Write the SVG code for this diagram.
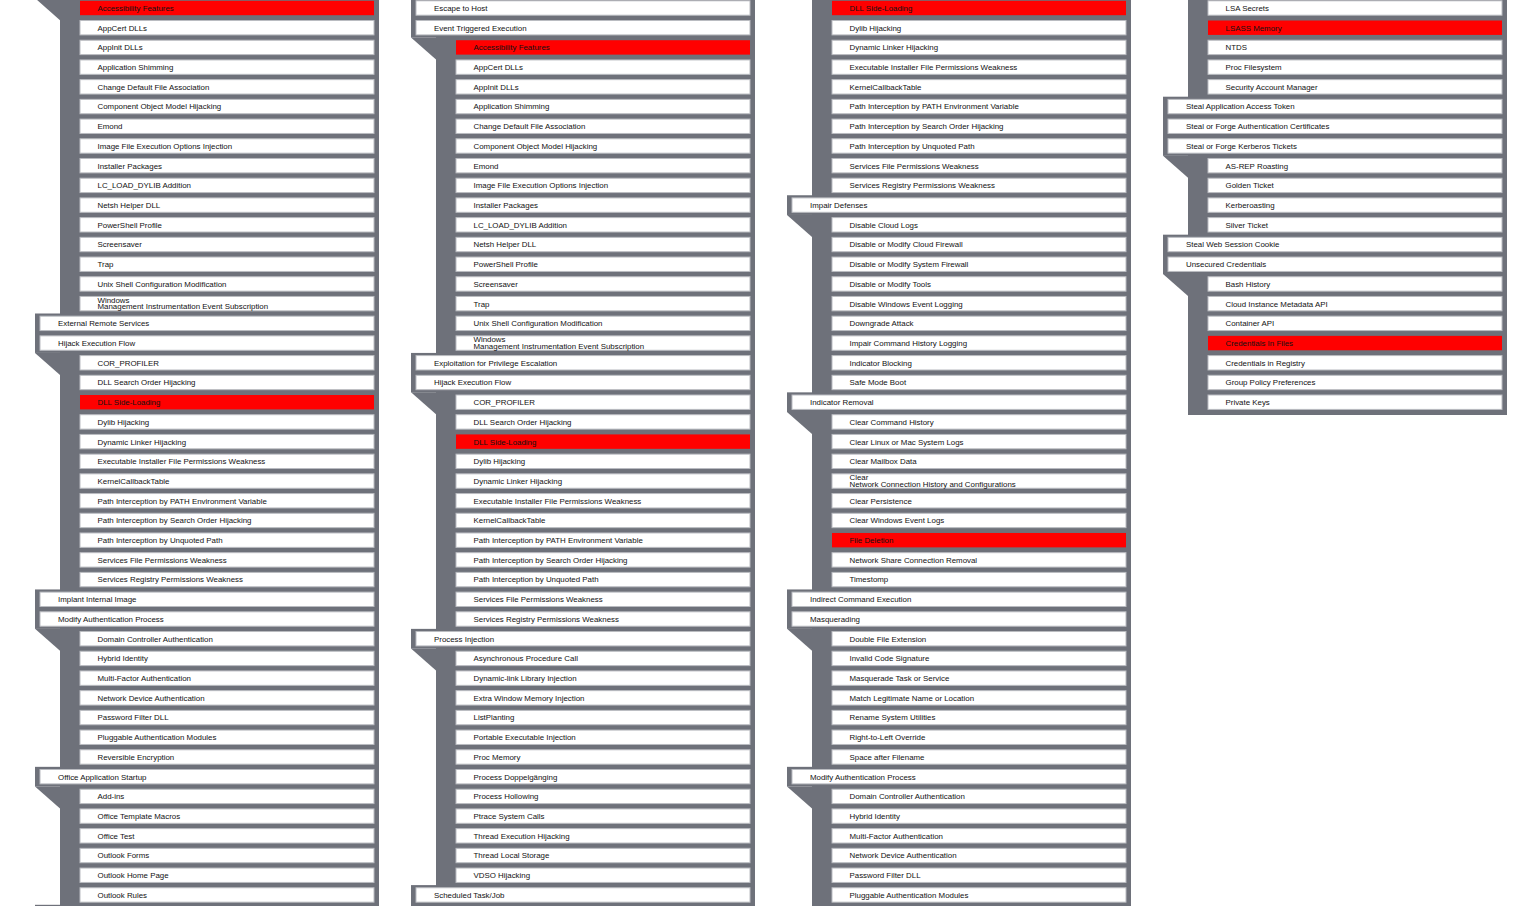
<svg xmlns="http://www.w3.org/2000/svg" width="1531" height="906" viewBox="0 0 1531 906">
<style>
.bg{fill:#6e717a}
.t rect,.s rect{fill:#fff;stroke:#babcc1;stroke-width:1}
.hl rect{fill:#ff0000;stroke:none}
text{font-family:"Liberation Sans",Arial,sans-serif;font-size:7.9px;fill:#111}
</style>
<rect width="1531" height="906" fill="#fff"/>
<g id="connectors">
<g transform="translate(0,0)">
<rect class="bg" x="60" y="-2" width="319" height="912"/>
<rect class="bg" x="35" y="313.5" width="25" height="39.43"/>
<rect class="bg" x="35" y="589.45" width="25" height="39.42"/>
<rect class="bg" x="35" y="766.84" width="25" height="19.71"/>
<rect class="bg" x="35" y="904.8" width="25" height="6"/>
<polygon class="bg" points="35,-1.86 60,-1.86 60,20.14"/>
<polygon class="bg" points="35,352.93 60,352.93 60,374.93"/>
<polygon class="bg" points="35,628.87 60,628.87 60,650.87"/>
<polygon class="bg" points="35,786.55 60,786.55 60,808.55"/>
</g>
<g transform="translate(376,0)">
<rect class="bg" x="60" y="-2" width="319" height="912"/>
<rect class="bg" x="35" y="-2" width="25" height="39.57"/>
<rect class="bg" x="35" y="352.93" width="25" height="39.42"/>
<rect class="bg" x="35" y="628.87" width="25" height="19.71"/>
<rect class="bg" x="35" y="885.1" width="25" height="25"/>
<polygon class="bg" points="35,37.57 60,37.57 60,59.57"/>
<polygon class="bg" points="35,392.35 60,392.35 60,414.35"/>
<polygon class="bg" points="35,648.58 60,648.58 60,670.58"/>
</g>
<g transform="translate(752,0)">
<rect class="bg" x="60" y="-2" width="319" height="912"/>
<rect class="bg" x="35" y="195.25" width="25" height="19.71"/>
<rect class="bg" x="35" y="392.35" width="25" height="19.71"/>
<rect class="bg" x="35" y="589.45" width="25" height="39.42"/>
<rect class="bg" x="35" y="766.84" width="25" height="19.71"/>
<polygon class="bg" points="35,214.96 60,214.96 60,236.96"/>
<polygon class="bg" points="35,412.06 60,412.06 60,434.06"/>
<polygon class="bg" points="35,628.87 60,628.87 60,650.87"/>
<polygon class="bg" points="35,786.55 60,786.55 60,808.55"/>
</g>
<g transform="translate(1128,0)">
<rect class="bg" x="60" y="-2" width="319" height="417"/>
<rect class="bg" x="35" y="96.7" width="25" height="59.13"/>
<rect class="bg" x="35" y="234.67" width="25" height="39.42"/>
<polygon class="bg" points="35,155.83 60,155.83 60,177.83"/>
<polygon class="bg" points="35,274.09 60,274.09 60,296.09"/>
</g>
</g>

<g id="column-1">
<g id="n1-00" class="s hl" transform="translate(0,8)"><rect x="80" y="-7.2" width="294" height="14.4"/><text x="97.5" y="2.9">Accessibility Features</text></g>
<g id="n1-01" class="s" transform="translate(0,27.71)"><rect x="80" y="-7.2" width="294" height="14.4"/><text x="97.5" y="2.9">AppCert DLLs</text></g>
<g id="n1-02" class="s" transform="translate(0,47.42)"><rect x="80" y="-7.2" width="294" height="14.4"/><text x="97.5" y="2.9">AppInit DLLs</text></g>
<g id="n1-03" class="s" transform="translate(0,67.13)"><rect x="80" y="-7.2" width="294" height="14.4"/><text x="97.5" y="2.9">Application Shimming</text></g>
<g id="n1-04" class="s" transform="translate(0,86.84)"><rect x="80" y="-7.2" width="294" height="14.4"/><text x="97.5" y="2.9">Change Default File Association</text></g>
<g id="n1-05" class="s" transform="translate(0,106.55)"><rect x="80" y="-7.2" width="294" height="14.4"/><text x="97.5" y="2.9">Component Object Model Hijacking</text></g>
<g id="n1-06" class="s" transform="translate(0,126.26)"><rect x="80" y="-7.2" width="294" height="14.4"/><text x="97.5" y="2.9">Emond</text></g>
<g id="n1-07" class="s" transform="translate(0,145.97)"><rect x="80" y="-7.2" width="294" height="14.4"/><text x="97.5" y="2.9">Image File Execution Options Injection</text></g>
<g id="n1-08" class="s" transform="translate(0,165.68)"><rect x="80" y="-7.2" width="294" height="14.4"/><text x="97.5" y="2.9">Installer Packages</text></g>
<g id="n1-09" class="s" transform="translate(0,185.39)"><rect x="80" y="-7.2" width="294" height="14.4"/><text x="97.5" y="2.9">LC_LOAD_DYLIB Addition</text></g>
<g id="n1-10" class="s" transform="translate(0,205.1)"><rect x="80" y="-7.2" width="294" height="14.4"/><text x="97.5" y="2.9">Netsh Helper DLL</text></g>
<g id="n1-11" class="s" transform="translate(0,224.81)"><rect x="80" y="-7.2" width="294" height="14.4"/><text x="97.5" y="2.9">PowerShell Profile</text></g>
<g id="n1-12" class="s" transform="translate(0,244.52)"><rect x="80" y="-7.2" width="294" height="14.4"/><text x="97.5" y="2.9">Screensaver</text></g>
<g id="n1-13" class="s" transform="translate(0,264.23)"><rect x="80" y="-7.2" width="294" height="14.4"/><text x="97.5" y="2.9">Trap</text></g>
<g id="n1-14" class="s" transform="translate(0,283.94)"><rect x="80" y="-7.2" width="294" height="14.4"/><text x="97.5" y="2.9">Unix Shell Configuration Modification</text></g>
<g id="n1-15" class="s" transform="translate(0,303.65)"><rect x="80" y="-7.2" width="294" height="14.4"/><text x="97.5" y="-1.1">Windows</text><text x="97.5" y="5.6">Management Instrumentation Event Subscription</text></g>
<g id="n1-16" class="t" transform="translate(0,323.36)"><rect x="40" y="-7.2" width="334" height="14.4"/><text x="58" y="2.9">External Remote Services</text></g>
<g id="n1-17" class="t" transform="translate(0,343.07)"><rect x="40" y="-7.2" width="334" height="14.4"/><text x="58" y="2.9">Hijack Execution Flow</text></g>
<g id="n1-18" class="s" transform="translate(0,362.78)"><rect x="80" y="-7.2" width="294" height="14.4"/><text x="97.5" y="2.9">COR_PROFILER</text></g>
<g id="n1-19" class="s" transform="translate(0,382.49)"><rect x="80" y="-7.2" width="294" height="14.4"/><text x="97.5" y="2.9">DLL Search Order Hijacking</text></g>
<g id="n1-20" class="s hl" transform="translate(0,402.2)"><rect x="80" y="-7.2" width="294" height="14.4"/><text x="97.5" y="2.9">DLL Side-Loading</text></g>
<g id="n1-21" class="s" transform="translate(0,421.91)"><rect x="80" y="-7.2" width="294" height="14.4"/><text x="97.5" y="2.9">Dylib Hijacking</text></g>
<g id="n1-22" class="s" transform="translate(0,441.62)"><rect x="80" y="-7.2" width="294" height="14.4"/><text x="97.5" y="2.9">Dynamic Linker Hijacking</text></g>
<g id="n1-23" class="s" transform="translate(0,461.33)"><rect x="80" y="-7.2" width="294" height="14.4"/><text x="97.5" y="2.9">Executable Installer File Permissions Weakness</text></g>
<g id="n1-24" class="s" transform="translate(0,481.04)"><rect x="80" y="-7.2" width="294" height="14.4"/><text x="97.5" y="2.9">KernelCallbackTable</text></g>
<g id="n1-25" class="s" transform="translate(0,500.75)"><rect x="80" y="-7.2" width="294" height="14.4"/><text x="97.5" y="2.9">Path Interception by PATH Environment Variable</text></g>
<g id="n1-26" class="s" transform="translate(0,520.46)"><rect x="80" y="-7.2" width="294" height="14.4"/><text x="97.5" y="2.9">Path Interception by Search Order Hijacking</text></g>
<g id="n1-27" class="s" transform="translate(0,540.17)"><rect x="80" y="-7.2" width="294" height="14.4"/><text x="97.5" y="2.9">Path Interception by Unquoted Path</text></g>
<g id="n1-28" class="s" transform="translate(0,559.88)"><rect x="80" y="-7.2" width="294" height="14.4"/><text x="97.5" y="2.9">Services File Permissions Weakness</text></g>
<g id="n1-29" class="s" transform="translate(0,579.59)"><rect x="80" y="-7.2" width="294" height="14.4"/><text x="97.5" y="2.9">Services Registry Permissions Weakness</text></g>
<g id="n1-30" class="t" transform="translate(0,599.3)"><rect x="40" y="-7.2" width="334" height="14.4"/><text x="58" y="2.9">Implant Internal Image</text></g>
<g id="n1-31" class="t" transform="translate(0,619.01)"><rect x="40" y="-7.2" width="334" height="14.4"/><text x="58" y="2.9">Modify Authentication Process</text></g>
<g id="n1-32" class="s" transform="translate(0,638.72)"><rect x="80" y="-7.2" width="294" height="14.4"/><text x="97.5" y="2.9">Domain Controller Authentication</text></g>
<g id="n1-33" class="s" transform="translate(0,658.43)"><rect x="80" y="-7.2" width="294" height="14.4"/><text x="97.5" y="2.9">Hybrid Identity</text></g>
<g id="n1-34" class="s" transform="translate(0,678.14)"><rect x="80" y="-7.2" width="294" height="14.4"/><text x="97.5" y="2.9">Multi-Factor Authentication</text></g>
<g id="n1-35" class="s" transform="translate(0,697.85)"><rect x="80" y="-7.2" width="294" height="14.4"/><text x="97.5" y="2.9">Network Device Authentication</text></g>
<g id="n1-36" class="s" transform="translate(0,717.56)"><rect x="80" y="-7.2" width="294" height="14.4"/><text x="97.5" y="2.9">Password Filter DLL</text></g>
<g id="n1-37" class="s" transform="translate(0,737.27)"><rect x="80" y="-7.2" width="294" height="14.4"/><text x="97.5" y="2.9">Pluggable Authentication Modules</text></g>
<g id="n1-38" class="s" transform="translate(0,756.98)"><rect x="80" y="-7.2" width="294" height="14.4"/><text x="97.5" y="2.9">Reversible Encryption</text></g>
<g id="n1-39" class="t" transform="translate(0,776.69)"><rect x="40" y="-7.2" width="334" height="14.4"/><text x="58" y="2.9">Office Application Startup</text></g>
<g id="n1-40" class="s" transform="translate(0,796.4)"><rect x="80" y="-7.2" width="294" height="14.4"/><text x="97.5" y="2.9">Add-ins</text></g>
<g id="n1-41" class="s" transform="translate(0,816.11)"><rect x="80" y="-7.2" width="294" height="14.4"/><text x="97.5" y="2.9">Office Template Macros</text></g>
<g id="n1-42" class="s" transform="translate(0,835.82)"><rect x="80" y="-7.2" width="294" height="14.4"/><text x="97.5" y="2.9">Office Test</text></g>
<g id="n1-43" class="s" transform="translate(0,855.53)"><rect x="80" y="-7.2" width="294" height="14.4"/><text x="97.5" y="2.9">Outlook Forms</text></g>
<g id="n1-44" class="s" transform="translate(0,875.24)"><rect x="80" y="-7.2" width="294" height="14.4"/><text x="97.5" y="2.9">Outlook Home Page</text></g>
<g id="n1-45" class="s" transform="translate(0,894.95)"><rect x="80" y="-7.2" width="294" height="14.4"/><text x="97.5" y="2.9">Outlook Rules</text></g>
</g>

<g id="column-2" transform="translate(376,0)">
<g id="n2-00" class="t" transform="translate(0,8)"><rect x="40" y="-7.2" width="334" height="14.4"/><text x="58" y="2.9">Escape to Host</text></g>
<g id="n2-01" class="t" transform="translate(0,27.71)"><rect x="40" y="-7.2" width="334" height="14.4"/><text x="58" y="2.9">Event Triggered Execution</text></g>
<g id="n2-02" class="s hl" transform="translate(0,47.42)"><rect x="80" y="-7.2" width="294" height="14.4"/><text x="97.5" y="2.9">Accessibility Features</text></g>
<g id="n2-03" class="s" transform="translate(0,67.13)"><rect x="80" y="-7.2" width="294" height="14.4"/><text x="97.5" y="2.9">AppCert DLLs</text></g>
<g id="n2-04" class="s" transform="translate(0,86.84)"><rect x="80" y="-7.2" width="294" height="14.4"/><text x="97.5" y="2.9">AppInit DLLs</text></g>
<g id="n2-05" class="s" transform="translate(0,106.55)"><rect x="80" y="-7.2" width="294" height="14.4"/><text x="97.5" y="2.9">Application Shimming</text></g>
<g id="n2-06" class="s" transform="translate(0,126.26)"><rect x="80" y="-7.2" width="294" height="14.4"/><text x="97.5" y="2.9">Change Default File Association</text></g>
<g id="n2-07" class="s" transform="translate(0,145.97)"><rect x="80" y="-7.2" width="294" height="14.4"/><text x="97.5" y="2.9">Component Object Model Hijacking</text></g>
<g id="n2-08" class="s" transform="translate(0,165.68)"><rect x="80" y="-7.2" width="294" height="14.4"/><text x="97.5" y="2.9">Emond</text></g>
<g id="n2-09" class="s" transform="translate(0,185.39)"><rect x="80" y="-7.2" width="294" height="14.4"/><text x="97.5" y="2.9">Image File Execution Options Injection</text></g>
<g id="n2-10" class="s" transform="translate(0,205.1)"><rect x="80" y="-7.2" width="294" height="14.4"/><text x="97.5" y="2.9">Installer Packages</text></g>
<g id="n2-11" class="s" transform="translate(0,224.81)"><rect x="80" y="-7.2" width="294" height="14.4"/><text x="97.5" y="2.9">LC_LOAD_DYLIB Addition</text></g>
<g id="n2-12" class="s" transform="translate(0,244.52)"><rect x="80" y="-7.2" width="294" height="14.4"/><text x="97.5" y="2.9">Netsh Helper DLL</text></g>
<g id="n2-13" class="s" transform="translate(0,264.23)"><rect x="80" y="-7.2" width="294" height="14.4"/><text x="97.5" y="2.9">PowerShell Profile</text></g>
<g id="n2-14" class="s" transform="translate(0,283.94)"><rect x="80" y="-7.2" width="294" height="14.4"/><text x="97.5" y="2.9">Screensaver</text></g>
<g id="n2-15" class="s" transform="translate(0,303.65)"><rect x="80" y="-7.2" width="294" height="14.4"/><text x="97.5" y="2.9">Trap</text></g>
<g id="n2-16" class="s" transform="translate(0,323.36)"><rect x="80" y="-7.2" width="294" height="14.4"/><text x="97.5" y="2.9">Unix Shell Configuration Modification</text></g>
<g id="n2-17" class="s" transform="translate(0,343.07)"><rect x="80" y="-7.2" width="294" height="14.4"/><text x="97.5" y="-1.1">Windows</text><text x="97.5" y="5.6">Management Instrumentation Event Subscription</text></g>
<g id="n2-18" class="t" transform="translate(0,362.78)"><rect x="40" y="-7.2" width="334" height="14.4"/><text x="58" y="2.9">Exploitation for Privilege Escalation</text></g>
<g id="n2-19" class="t" transform="translate(0,382.49)"><rect x="40" y="-7.2" width="334" height="14.4"/><text x="58" y="2.9">Hijack Execution Flow</text></g>
<g id="n2-20" class="s" transform="translate(0,402.2)"><rect x="80" y="-7.2" width="294" height="14.4"/><text x="97.5" y="2.9">COR_PROFILER</text></g>
<g id="n2-21" class="s" transform="translate(0,421.91)"><rect x="80" y="-7.2" width="294" height="14.4"/><text x="97.5" y="2.9">DLL Search Order Hijacking</text></g>
<g id="n2-22" class="s hl" transform="translate(0,441.62)"><rect x="80" y="-7.2" width="294" height="14.4"/><text x="97.5" y="2.9">DLL Side-Loading</text></g>
<g id="n2-23" class="s" transform="translate(0,461.33)"><rect x="80" y="-7.2" width="294" height="14.4"/><text x="97.5" y="2.9">Dylib Hijacking</text></g>
<g id="n2-24" class="s" transform="translate(0,481.04)"><rect x="80" y="-7.2" width="294" height="14.4"/><text x="97.5" y="2.9">Dynamic Linker Hijacking</text></g>
<g id="n2-25" class="s" transform="translate(0,500.75)"><rect x="80" y="-7.2" width="294" height="14.4"/><text x="97.5" y="2.9">Executable Installer File Permissions Weakness</text></g>
<g id="n2-26" class="s" transform="translate(0,520.46)"><rect x="80" y="-7.2" width="294" height="14.4"/><text x="97.5" y="2.9">KernelCallbackTable</text></g>
<g id="n2-27" class="s" transform="translate(0,540.17)"><rect x="80" y="-7.2" width="294" height="14.4"/><text x="97.5" y="2.9">Path Interception by PATH Environment Variable</text></g>
<g id="n2-28" class="s" transform="translate(0,559.88)"><rect x="80" y="-7.2" width="294" height="14.4"/><text x="97.5" y="2.9">Path Interception by Search Order Hijacking</text></g>
<g id="n2-29" class="s" transform="translate(0,579.59)"><rect x="80" y="-7.2" width="294" height="14.4"/><text x="97.5" y="2.9">Path Interception by Unquoted Path</text></g>
<g id="n2-30" class="s" transform="translate(0,599.3)"><rect x="80" y="-7.2" width="294" height="14.4"/><text x="97.5" y="2.9">Services File Permissions Weakness</text></g>
<g id="n2-31" class="s" transform="translate(0,619.01)"><rect x="80" y="-7.2" width="294" height="14.4"/><text x="97.5" y="2.9">Services Registry Permissions Weakness</text></g>
<g id="n2-32" class="t" transform="translate(0,638.72)"><rect x="40" y="-7.2" width="334" height="14.4"/><text x="58" y="2.9">Process Injection</text></g>
<g id="n2-33" class="s" transform="translate(0,658.43)"><rect x="80" y="-7.2" width="294" height="14.4"/><text x="97.5" y="2.9">Asynchronous Procedure Call</text></g>
<g id="n2-34" class="s" transform="translate(0,678.14)"><rect x="80" y="-7.2" width="294" height="14.4"/><text x="97.5" y="2.9">Dynamic-link Library Injection</text></g>
<g id="n2-35" class="s" transform="translate(0,697.85)"><rect x="80" y="-7.2" width="294" height="14.4"/><text x="97.5" y="2.9">Extra Window Memory Injection</text></g>
<g id="n2-36" class="s" transform="translate(0,717.56)"><rect x="80" y="-7.2" width="294" height="14.4"/><text x="97.5" y="2.9">ListPlanting</text></g>
<g id="n2-37" class="s" transform="translate(0,737.27)"><rect x="80" y="-7.2" width="294" height="14.4"/><text x="97.5" y="2.9">Portable Executable Injection</text></g>
<g id="n2-38" class="s" transform="translate(0,756.98)"><rect x="80" y="-7.2" width="294" height="14.4"/><text x="97.5" y="2.9">Proc Memory</text></g>
<g id="n2-39" class="s" transform="translate(0,776.69)"><rect x="80" y="-7.2" width="294" height="14.4"/><text x="97.5" y="2.9">Process Doppelgänging</text></g>
<g id="n2-40" class="s" transform="translate(0,796.4)"><rect x="80" y="-7.2" width="294" height="14.4"/><text x="97.5" y="2.9">Process Hollowing</text></g>
<g id="n2-41" class="s" transform="translate(0,816.11)"><rect x="80" y="-7.2" width="294" height="14.4"/><text x="97.5" y="2.9">Ptrace System Calls</text></g>
<g id="n2-42" class="s" transform="translate(0,835.82)"><rect x="80" y="-7.2" width="294" height="14.4"/><text x="97.5" y="2.9">Thread Execution Hijacking</text></g>
<g id="n2-43" class="s" transform="translate(0,855.53)"><rect x="80" y="-7.2" width="294" height="14.4"/><text x="97.5" y="2.9">Thread Local Storage</text></g>
<g id="n2-44" class="s" transform="translate(0,875.24)"><rect x="80" y="-7.2" width="294" height="14.4"/><text x="97.5" y="2.9">VDSO Hijacking</text></g>
<g id="n2-45" class="t" transform="translate(0,894.95)"><rect x="40" y="-7.2" width="334" height="14.4"/><text x="58" y="2.9">Scheduled Task/Job</text></g>
</g>

<g id="column-3" transform="translate(752,0)">
<g id="n3-00" class="s hl" transform="translate(0,8)"><rect x="80" y="-7.2" width="294" height="14.4"/><text x="97.5" y="2.9">DLL Side-Loading</text></g>
<g id="n3-01" class="s" transform="translate(0,27.71)"><rect x="80" y="-7.2" width="294" height="14.4"/><text x="97.5" y="2.9">Dylib Hijacking</text></g>
<g id="n3-02" class="s" transform="translate(0,47.42)"><rect x="80" y="-7.2" width="294" height="14.4"/><text x="97.5" y="2.9">Dynamic Linker Hijacking</text></g>
<g id="n3-03" class="s" transform="translate(0,67.13)"><rect x="80" y="-7.2" width="294" height="14.4"/><text x="97.5" y="2.9">Executable Installer File Permissions Weakness</text></g>
<g id="n3-04" class="s" transform="translate(0,86.84)"><rect x="80" y="-7.2" width="294" height="14.4"/><text x="97.5" y="2.9">KernelCallbackTable</text></g>
<g id="n3-05" class="s" transform="translate(0,106.55)"><rect x="80" y="-7.2" width="294" height="14.4"/><text x="97.5" y="2.9">Path Interception by PATH Environment Variable</text></g>
<g id="n3-06" class="s" transform="translate(0,126.26)"><rect x="80" y="-7.2" width="294" height="14.4"/><text x="97.5" y="2.9">Path Interception by Search Order Hijacking</text></g>
<g id="n3-07" class="s" transform="translate(0,145.97)"><rect x="80" y="-7.2" width="294" height="14.4"/><text x="97.5" y="2.9">Path Interception by Unquoted Path</text></g>
<g id="n3-08" class="s" transform="translate(0,165.68)"><rect x="80" y="-7.2" width="294" height="14.4"/><text x="97.5" y="2.9">Services File Permissions Weakness</text></g>
<g id="n3-09" class="s" transform="translate(0,185.39)"><rect x="80" y="-7.2" width="294" height="14.4"/><text x="97.5" y="2.9">Services Registry Permissions Weakness</text></g>
<g id="n3-10" class="t" transform="translate(0,205.1)"><rect x="40" y="-7.2" width="334" height="14.4"/><text x="58" y="2.9">Impair Defenses</text></g>
<g id="n3-11" class="s" transform="translate(0,224.81)"><rect x="80" y="-7.2" width="294" height="14.4"/><text x="97.5" y="2.9">Disable Cloud Logs</text></g>
<g id="n3-12" class="s" transform="translate(0,244.52)"><rect x="80" y="-7.2" width="294" height="14.4"/><text x="97.5" y="2.9">Disable or Modify Cloud Firewall</text></g>
<g id="n3-13" class="s" transform="translate(0,264.23)"><rect x="80" y="-7.2" width="294" height="14.4"/><text x="97.5" y="2.9">Disable or Modify System Firewall</text></g>
<g id="n3-14" class="s" transform="translate(0,283.94)"><rect x="80" y="-7.2" width="294" height="14.4"/><text x="97.5" y="2.9">Disable or Modify Tools</text></g>
<g id="n3-15" class="s" transform="translate(0,303.65)"><rect x="80" y="-7.2" width="294" height="14.4"/><text x="97.5" y="2.9">Disable Windows Event Logging</text></g>
<g id="n3-16" class="s" transform="translate(0,323.36)"><rect x="80" y="-7.2" width="294" height="14.4"/><text x="97.5" y="2.9">Downgrade Attack</text></g>
<g id="n3-17" class="s" transform="translate(0,343.07)"><rect x="80" y="-7.2" width="294" height="14.4"/><text x="97.5" y="2.9">Impair Command History Logging</text></g>
<g id="n3-18" class="s" transform="translate(0,362.78)"><rect x="80" y="-7.2" width="294" height="14.4"/><text x="97.5" y="2.9">Indicator Blocking</text></g>
<g id="n3-19" class="s" transform="translate(0,382.49)"><rect x="80" y="-7.2" width="294" height="14.4"/><text x="97.5" y="2.9">Safe Mode Boot</text></g>
<g id="n3-20" class="t" transform="translate(0,402.2)"><rect x="40" y="-7.2" width="334" height="14.4"/><text x="58" y="2.9">Indicator Removal</text></g>
<g id="n3-21" class="s" transform="translate(0,421.91)"><rect x="80" y="-7.2" width="294" height="14.4"/><text x="97.5" y="2.9">Clear Command History</text></g>
<g id="n3-22" class="s" transform="translate(0,441.62)"><rect x="80" y="-7.2" width="294" height="14.4"/><text x="97.5" y="2.9">Clear Linux or Mac System Logs</text></g>
<g id="n3-23" class="s" transform="translate(0,461.33)"><rect x="80" y="-7.2" width="294" height="14.4"/><text x="97.5" y="2.9">Clear Mailbox Data</text></g>
<g id="n3-24" class="s" transform="translate(0,481.04)"><rect x="80" y="-7.2" width="294" height="14.4"/><text x="97.5" y="-1.1">Clear</text><text x="97.5" y="5.6">Network Connection History and Configurations</text></g>
<g id="n3-25" class="s" transform="translate(0,500.75)"><rect x="80" y="-7.2" width="294" height="14.4"/><text x="97.5" y="2.9">Clear Persistence</text></g>
<g id="n3-26" class="s" transform="translate(0,520.46)"><rect x="80" y="-7.2" width="294" height="14.4"/><text x="97.5" y="2.9">Clear Windows Event Logs</text></g>
<g id="n3-27" class="s hl" transform="translate(0,540.17)"><rect x="80" y="-7.2" width="294" height="14.4"/><text x="97.5" y="2.9">File Deletion</text></g>
<g id="n3-28" class="s" transform="translate(0,559.88)"><rect x="80" y="-7.2" width="294" height="14.4"/><text x="97.5" y="2.9">Network Share Connection Removal</text></g>
<g id="n3-29" class="s" transform="translate(0,579.59)"><rect x="80" y="-7.2" width="294" height="14.4"/><text x="97.5" y="2.9">Timestomp</text></g>
<g id="n3-30" class="t" transform="translate(0,599.3)"><rect x="40" y="-7.2" width="334" height="14.4"/><text x="58" y="2.9">Indirect Command Execution</text></g>
<g id="n3-31" class="t" transform="translate(0,619.01)"><rect x="40" y="-7.2" width="334" height="14.4"/><text x="58" y="2.9">Masquerading</text></g>
<g id="n3-32" class="s" transform="translate(0,638.72)"><rect x="80" y="-7.2" width="294" height="14.4"/><text x="97.5" y="2.9">Double File Extension</text></g>
<g id="n3-33" class="s" transform="translate(0,658.43)"><rect x="80" y="-7.2" width="294" height="14.4"/><text x="97.5" y="2.9">Invalid Code Signature</text></g>
<g id="n3-34" class="s" transform="translate(0,678.14)"><rect x="80" y="-7.2" width="294" height="14.4"/><text x="97.5" y="2.9">Masquerade Task or Service</text></g>
<g id="n3-35" class="s" transform="translate(0,697.85)"><rect x="80" y="-7.2" width="294" height="14.4"/><text x="97.5" y="2.9">Match Legitimate Name or Location</text></g>
<g id="n3-36" class="s" transform="translate(0,717.56)"><rect x="80" y="-7.2" width="294" height="14.4"/><text x="97.5" y="2.9">Rename System Utilities</text></g>
<g id="n3-37" class="s" transform="translate(0,737.27)"><rect x="80" y="-7.2" width="294" height="14.4"/><text x="97.5" y="2.9">Right-to-Left Override</text></g>
<g id="n3-38" class="s" transform="translate(0,756.98)"><rect x="80" y="-7.2" width="294" height="14.4"/><text x="97.5" y="2.9">Space after Filename</text></g>
<g id="n3-39" class="t" transform="translate(0,776.69)"><rect x="40" y="-7.2" width="334" height="14.4"/><text x="58" y="2.9">Modify Authentication Process</text></g>
<g id="n3-40" class="s" transform="translate(0,796.4)"><rect x="80" y="-7.2" width="294" height="14.4"/><text x="97.5" y="2.9">Domain Controller Authentication</text></g>
<g id="n3-41" class="s" transform="translate(0,816.11)"><rect x="80" y="-7.2" width="294" height="14.4"/><text x="97.5" y="2.9">Hybrid Identity</text></g>
<g id="n3-42" class="s" transform="translate(0,835.82)"><rect x="80" y="-7.2" width="294" height="14.4"/><text x="97.5" y="2.9">Multi-Factor Authentication</text></g>
<g id="n3-43" class="s" transform="translate(0,855.53)"><rect x="80" y="-7.2" width="294" height="14.4"/><text x="97.5" y="2.9">Network Device Authentication</text></g>
<g id="n3-44" class="s" transform="translate(0,875.24)"><rect x="80" y="-7.2" width="294" height="14.4"/><text x="97.5" y="2.9">Password Filter DLL</text></g>
<g id="n3-45" class="s" transform="translate(0,894.95)"><rect x="80" y="-7.2" width="294" height="14.4"/><text x="97.5" y="2.9">Pluggable Authentication Modules</text></g>
</g>

<g id="column-4" transform="translate(1128,0)">
<g id="n4-00" class="s" transform="translate(0,8)"><rect x="80" y="-7.2" width="294" height="14.4"/><text x="97.5" y="2.9">LSA Secrets</text></g>
<g id="n4-01" class="s hl" transform="translate(0,27.71)"><rect x="80" y="-7.2" width="294" height="14.4"/><text x="97.5" y="2.9">LSASS Memory</text></g>
<g id="n4-02" class="s" transform="translate(0,47.42)"><rect x="80" y="-7.2" width="294" height="14.4"/><text x="97.5" y="2.9">NTDS</text></g>
<g id="n4-03" class="s" transform="translate(0,67.13)"><rect x="80" y="-7.2" width="294" height="14.4"/><text x="97.5" y="2.9">Proc Filesystem</text></g>
<g id="n4-04" class="s" transform="translate(0,86.84)"><rect x="80" y="-7.2" width="294" height="14.4"/><text x="97.5" y="2.9">Security Account Manager</text></g>
<g id="n4-05" class="t" transform="translate(0,106.55)"><rect x="40" y="-7.2" width="334" height="14.4"/><text x="58" y="2.9">Steal Application Access Token</text></g>
<g id="n4-06" class="t" transform="translate(0,126.26)"><rect x="40" y="-7.2" width="334" height="14.4"/><text x="58" y="2.9">Steal or Forge Authentication Certificates</text></g>
<g id="n4-07" class="t" transform="translate(0,145.97)"><rect x="40" y="-7.2" width="334" height="14.4"/><text x="58" y="2.9">Steal or Forge Kerberos Tickets</text></g>
<g id="n4-08" class="s" transform="translate(0,165.68)"><rect x="80" y="-7.2" width="294" height="14.4"/><text x="97.5" y="2.9">AS-REP Roasting</text></g>
<g id="n4-09" class="s" transform="translate(0,185.39)"><rect x="80" y="-7.2" width="294" height="14.4"/><text x="97.5" y="2.9">Golden Ticket</text></g>
<g id="n4-10" class="s" transform="translate(0,205.1)"><rect x="80" y="-7.2" width="294" height="14.4"/><text x="97.5" y="2.9">Kerberoasting</text></g>
<g id="n4-11" class="s" transform="translate(0,224.81)"><rect x="80" y="-7.2" width="294" height="14.4"/><text x="97.5" y="2.9">Silver Ticket</text></g>
<g id="n4-12" class="t" transform="translate(0,244.52)"><rect x="40" y="-7.2" width="334" height="14.4"/><text x="58" y="2.9">Steal Web Session Cookie</text></g>
<g id="n4-13" class="t" transform="translate(0,264.23)"><rect x="40" y="-7.2" width="334" height="14.4"/><text x="58" y="2.9">Unsecured Credentials</text></g>
<g id="n4-14" class="s" transform="translate(0,283.94)"><rect x="80" y="-7.2" width="294" height="14.4"/><text x="97.5" y="2.9">Bash History</text></g>
<g id="n4-15" class="s" transform="translate(0,303.65)"><rect x="80" y="-7.2" width="294" height="14.4"/><text x="97.5" y="2.9">Cloud Instance Metadata API</text></g>
<g id="n4-16" class="s" transform="translate(0,323.36)"><rect x="80" y="-7.2" width="294" height="14.4"/><text x="97.5" y="2.9">Container API</text></g>
<g id="n4-17" class="s hl" transform="translate(0,343.07)"><rect x="80" y="-7.2" width="294" height="14.4"/><text x="97.5" y="2.9">Credentials In Files</text></g>
<g id="n4-18" class="s" transform="translate(0,362.78)"><rect x="80" y="-7.2" width="294" height="14.4"/><text x="97.5" y="2.9">Credentials in Registry</text></g>
<g id="n4-19" class="s" transform="translate(0,382.49)"><rect x="80" y="-7.2" width="294" height="14.4"/><text x="97.5" y="2.9">Group Policy Preferences</text></g>
<g id="n4-20" class="s" transform="translate(0,402.2)"><rect x="80" y="-7.2" width="294" height="14.4"/><text x="97.5" y="2.9">Private Keys</text></g>
</g>
</svg>
